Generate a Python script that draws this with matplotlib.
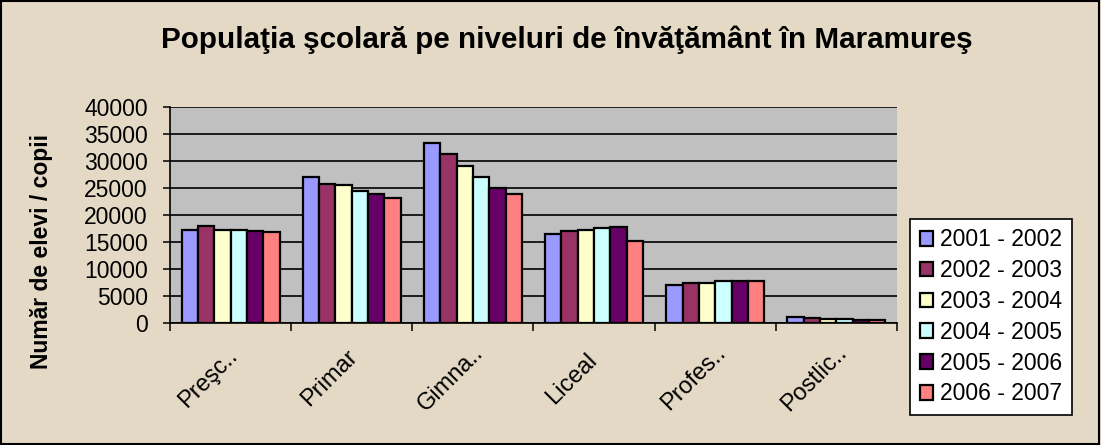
import numpy as np
import matplotlib
matplotlib.use("Agg")
import matplotlib.pyplot as plt
import matplotlib.transforms as mtransforms
from matplotlib.patches import Rectangle

categories = ["Preşc..", "Primar", "Gimna..", "Liceal", "Profes..", "Postlic.."]
years = ["2001 - 2002", "2002 - 2003", "2003 - 2004",
         "2004 - 2005", "2005 - 2006", "2006 - 2007"]
values_2001 = [17300, 27000, 33400, 16500, 7000, 1200]
values_2002 = [17900, 25800, 31200, 17000, 7400, 900]
values_2003 = [17300, 25500, 29100, 17200, 7400, 800]
values_2004 = [17300, 24400, 27000, 17500, 7800, 800]
values_2005 = [17100, 23900, 25000, 17700, 7800, 600]
values_2006 = [16900, 23200, 23900, 15100, 7800, 500]
series = [values_2001, values_2002, values_2003, values_2004, values_2005, values_2006]

colors = ["#9999FF", "#993366", "#FFFFCC", "#CCFFFF", "#660066", "#FF8080"]
bg = "#E3D9C5"

plt.rcParams.update({
    "font.family": ["Liberation Sans", "DejaVu Sans"],
    "font.size": 16,
})

fig = plt.figure(figsize=(11.01, 4.45), dpi=100, facecolor=bg)
ax = fig.add_axes([0.1544, 0.2742, 0.6603, 0.4854])
ax.set_facecolor("#C0C0C0")

x = np.arange(len(categories))
width = 0.135
for i, (vals, col, lab) in enumerate(zip(series, colors, years)):
    ax.bar(x + (i - 2.5) * width, vals, width=width, color=col,
           edgecolor="black", linewidth=1.6, label=lab, zorder=3)

ax.set_xlim(-0.5, len(categories) - 0.5)
ax.set_ylim(0, 40000)
ax.set_yticks(np.arange(0, 40001, 5000))
ax.yaxis.grid(True, color="black", linewidth=1.2, zorder=1)
ax.set_axisbelow(True)
ax.tick_params(axis="y", direction="out", length=5, width=1.1, labelsize=16.5, pad=11)

for s in ["top", "right"]:
    ax.spines[s].set_visible(False)
for s in ["left", "bottom"]:
    ax.spines[s].set_linewidth(1.2)

# category ticks at boundaries, labels at centres
ax.set_xticks(np.arange(-0.5, len(categories)), minor=True)
ax.tick_params(axis="x", which="minor", direction="out", length=6, width=1.1)
ax.set_xticks(x)
ax.set_xticklabels(categories, rotation=45, rotation_mode="anchor")
ax.tick_params(axis="x", which="major", length=0, pad=40, labelsize=17)
offset = mtransforms.ScaledTranslation(-22 / 100, 0, fig.dpi_scale_trans)
for lbl in ax.get_xticklabels():
    lbl.set_ha("center")
    lbl.set_va("center")
    lbl.set_transform(lbl.get_transform() + offset)

ax.set_ylabel("Număr de elevi / copii", fontsize=16.5, fontweight="bold")
ax.yaxis.set_label_coords(-0.161, 0.33)

fig.text(0.515, 0.91, "Populaţia şcolară pe niveluri de învăţământ în Maramureş",
         ha="center", va="center", fontsize=21.3, fontweight="bold")

leg = fig.legend(loc="lower left", bbox_to_anchor=(0.8265, 0.0674),
                 frameon=True, fancybox=False, edgecolor="black", framealpha=1,
                 handlelength=0.6, handleheight=0.6, handletextpad=0.3,
                 labelspacing=0.34, borderpad=0.42, borderaxespad=0, fontsize=16.5)
leg.get_frame().set_linewidth(1.2)
leg.get_frame().set_facecolor("white")

fig.patches.append(Rectangle((0.001, 0.002), 0.997, 0.995, transform=fig.transFigure,
                             fill=False, edgecolor="black", linewidth=1.5))

fig.savefig("out.png", dpi=100, facecolor=bg)
